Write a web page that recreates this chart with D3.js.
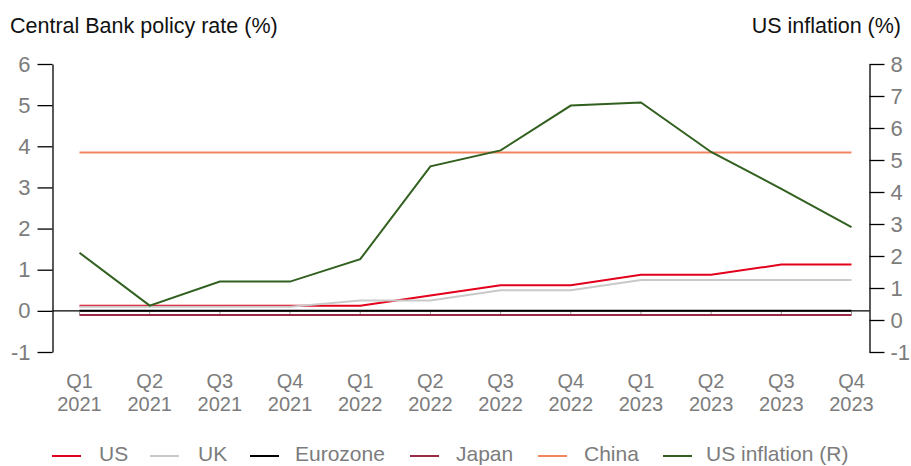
<!DOCTYPE html>
<html>
<head>
<meta charset="utf-8">
<script src="https://cdn.jsdelivr.net/npm/d3@7"></script>
<style>
  html, body { margin: 0; padding: 0; background: #fff; }
  svg { display: block; }
  text { font-family: "Liberation Sans", Arial, sans-serif; }
</style>
</head>
<body>
<svg id="chart" width="911" height="466"></svg>
<script>
// Quarter labels (two lines each)
const quarters = ["Q1","Q2","Q3","Q4","Q1","Q2","Q3","Q4","Q1","Q2","Q3","Q4"];
const years = ["2021","2021","2021","2021","2022","2022","2022","2022","2023","2023","2023","2023"];
const categories = quarters.map((q, i) => q + " " + years[i]);

// Policy rates (%), left axis
const us = [0.125, 0.125, 0.125, 0.125, 0.125, 0.375, 0.625, 0.625, 0.875, 0.875, 1.125, 1.125];
const uk = [0.1, 0.1, 0.1, 0.1, 0.25, 0.25, 0.5, 0.5, 0.75, 0.75, 0.75, 0.75];
const eurozone = [0, 0, 0, 0, 0, 0, 0, 0, 0, 0, 0, 0];
const japan = [-0.1, -0.1, -0.1, -0.1, -0.1, -0.1, -0.1, -0.1, -0.1, -0.1, -0.1, -0.1];
const china = [3.85, 3.85, 3.85, 3.85, 3.85, 3.85, 3.85, 3.85, 3.85, 3.85, 3.85, 3.85];
// US inflation (%), right axis
const usInflation = [2.1, 0.45, 1.2, 1.2, 1.9, 4.8, 5.3, 6.7, 6.8, 5.25, 4.1, 2.9];

const leftTicks = [-1, 0, 1, 2, 3, 4, 5, 6];
const rightTicks = [-1, 0, 1, 2, 3, 4, 5, 6, 7, 8];

const series = [
  { name: "US", values: us, color: "#e3001b", axis: "left" },
  { name: "UK", values: uk, color: "#c9c9c9", axis: "left" },
  { name: "Eurozone", values: eurozone, color: "#000000", axis: "left" },
  { name: "Japan", values: japan, color: "#9a2a45", axis: "left" },
  { name: "China", values: china, color: "#f3865f", axis: "left" },
  { name: "US inflation (R)", values: usInflation, color: "#31601f", axis: "right" }
];

const svg = d3.select("#chart");
const leftX = 52.5, rightX = 869.5, plotTop = 64, plotBottom = 352;

const x = d3.scalePoint().domain(categories).range([79.5, 851.5]);
const yL = d3.scaleLinear().domain([-1, 6]).range([plotBottom, plotTop]);
const yR = d3.scaleLinear().domain([-1, 8]).range([plotBottom, plotTop]);

const tickColor = "#7c7c7c";

// Axis titles
svg.append("text").attr("x", 10).attr("y", 33)
  .attr("font-size", 21.5).attr("fill", "#111")
  .text("Central Bank policy rate (%)");
svg.append("text").attr("x", 901).attr("y", 33).attr("text-anchor", "end")
  .attr("font-size", 21.5).attr("fill", "#111")
  .text("US inflation (%)");

// Left axis
const gL = svg.append("g").attr("transform", `translate(${leftX},0)`)
  .call(d3.axisLeft(yL).tickValues(leftTicks).tickFormat(d => String(d)).tickSize(15).tickSizeOuter(0).tickPadding(7));
// Right axis
const gR = svg.append("g").attr("transform", `translate(${rightX},0)`)
  .call(d3.axisRight(yR).tickValues(rightTicks).tickFormat(d => String(d)).tickSize(15).tickSizeOuter(0).tickPadding(6));

[gL, gR].forEach(g => {
  g.select(".domain").attr("stroke", "#000").attr("stroke-width", 1.3);
  g.selectAll(".tick line").attr("stroke", "#000").attr("stroke-width", 1.3);
  g.selectAll(".tick text").attr("fill", tickColor).attr("font-size", 22)
    .attr("font-family", "Liberation Sans, Arial, sans-serif");
});

// Zero baseline with small category ticks
svg.append("line").attr("x1", leftX).attr("x2", rightX)
  .attr("y1", yL(0)).attr("y2", yL(0)).attr("stroke", "#000").attr("stroke-width", 1.3);
svg.append("g").selectAll("line").data(categories).join("line")
  .attr("x1", d => x(d)).attr("x2", d => x(d))
  .attr("y1", yL(0)).attr("y2", yL(0) + 4).attr("stroke", "#999").attr("stroke-width", 1);

// Category labels
const xl = svg.append("g").attr("fill", tickColor).attr("font-size", 20).attr("text-anchor", "middle");
xl.selectAll("text.q").data(categories).join("text").attr("class", "q")
  .attr("x", d => x(d)).attr("y", 388).text((d, i) => quarters[i]);
xl.selectAll("text.y").data(categories).join("text").attr("class", "y")
  .attr("x", d => x(d)).attr("y", 411).text((d, i) => years[i]);

// Legend
const legendPos = [52, 150, 250, 410, 538, 663];
const legendTextGap = [47, 48, 45, 46, 46, 43];
const lg = svg.append("g");
series.forEach((s, i) => {
  const g = lg.append("g").attr("transform", `translate(${legendPos[i]},456)`);
  g.append("line").attr("x1", 0).attr("x2", 29).attr("y1", 0).attr("y2", 0)
    .attr("stroke", s.color).attr("stroke-width", 2);
  g.append("text").attr("x", legendTextGap[i]).attr("y", 5).attr("font-size", 21).attr("fill", tickColor).text(s.name);
});

// Series lines
const plot = svg.append("g");
series.forEach(s => {
  const yS = s.axis === "left" ? yL : yR;
  const line = d3.line().x((d, i) => x(categories[i])).y(d => yS(d));
  plot.append("path").datum(s.values)
    .attr("d", line).attr("fill", "none")
    .attr("stroke", s.color).attr("stroke-width", 2).attr("stroke-linejoin", "miter");
});
</script>
</body>
</html>
